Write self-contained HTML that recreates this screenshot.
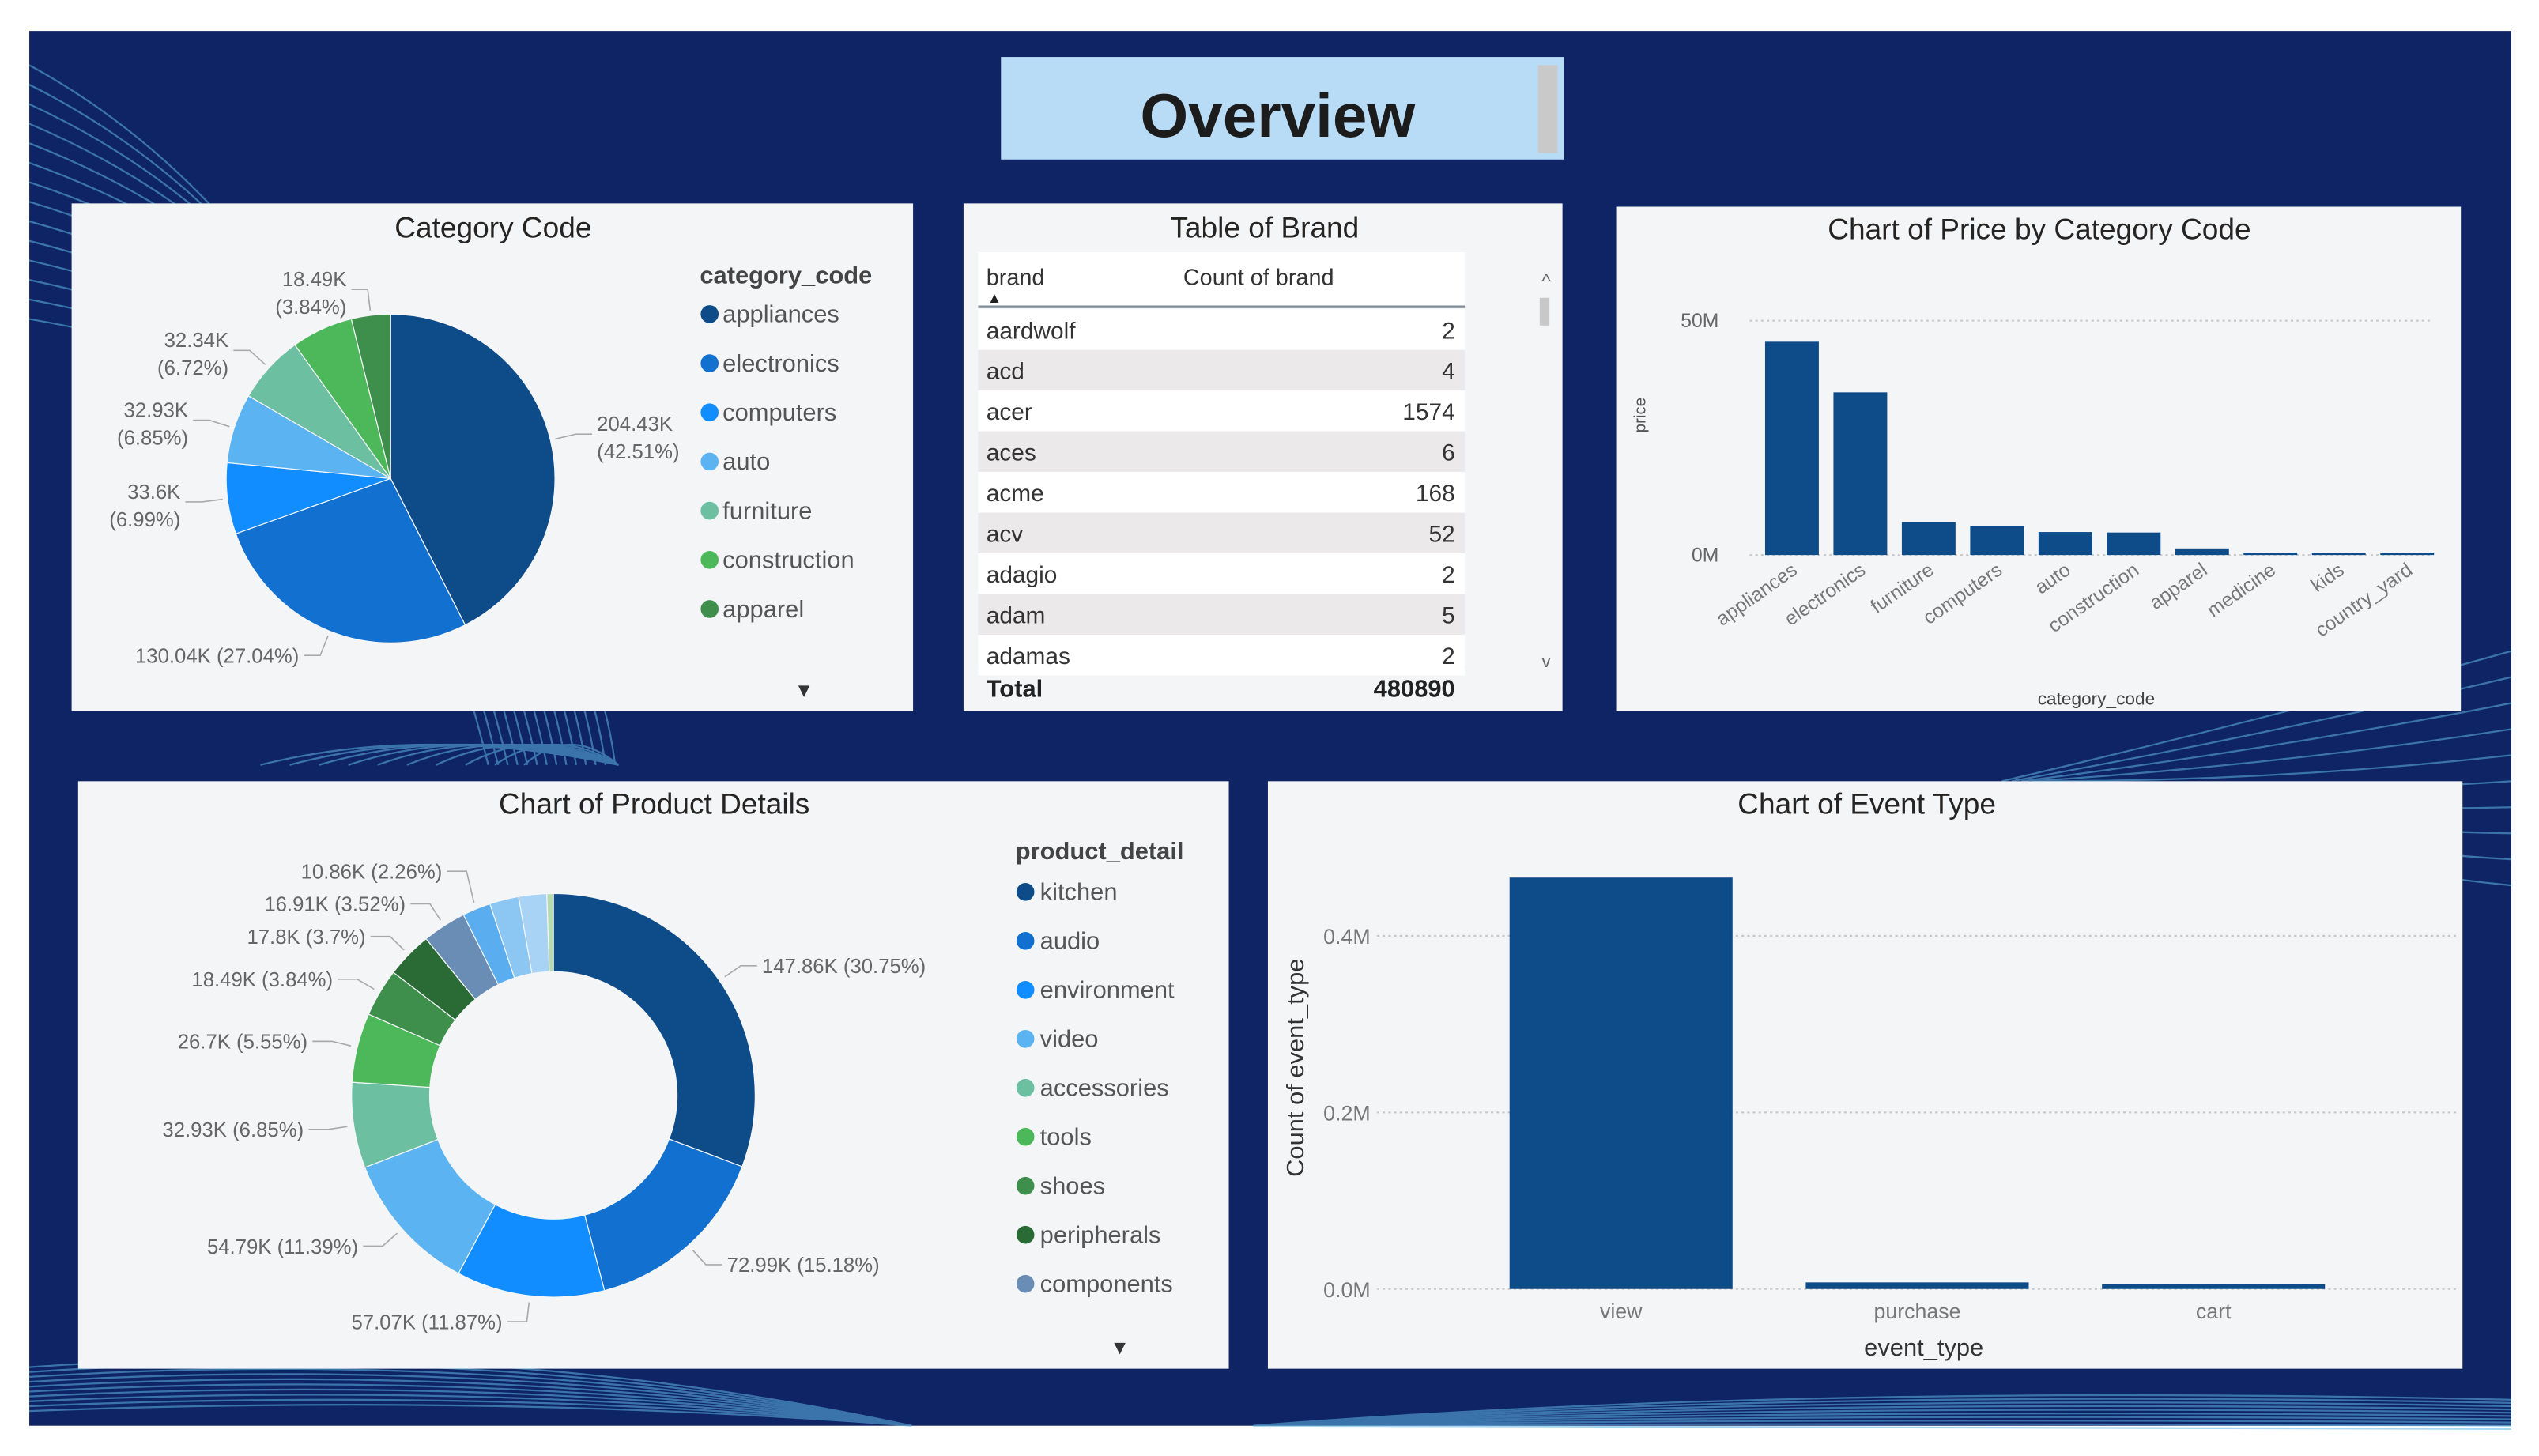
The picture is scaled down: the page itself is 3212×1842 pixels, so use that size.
<!DOCTYPE html>
<html><head><meta charset="utf-8"><style>
html,body{margin:0;padding:0;background:#fff;}
svg{display:block;font-family:"Liberation Sans",sans-serif;}
</style></head><body>
<svg id="root" width="3212" height="1842" viewBox="0 0 1560 894.6" preserveAspectRatio="none" xmlns="http://www.w3.org/2000/svg">
<rect x="0" y="0" width="1560" height="894.6" fill="#ffffff"/>
<rect x="18" y="19" width="1525" height="857" fill="#0f2464"/>
<g id="deco" fill="none" stroke="#5fb6e6" stroke-width="1.1" opacity="0.55"></g>
<g>
<rect x="615" y="35" width="346" height="63" fill="#b8dcf6"/>
<rect x="945" y="40" width="12" height="54" fill="#c9c9c9"/>
<text x="785" y="84" font-size="38" font-weight="bold" text-anchor="middle" fill="#1c1c1c">Overview</text>
</g>
<g id="p1">
<rect x="44" y="125" width="517" height="312" fill="#f4f5f7"/>
<text x="303" y="146" font-size="18" text-anchor="middle" fill="#252423">Category Code</text>
<text x="430" y="174" font-size="15" font-weight="bold" fill="#444">category_code</text>
<text x="494" y="428" font-size="12" text-anchor="middle" fill="#333">▼</text>
</g>
<g id="p2">
<rect x="592" y="125" width="368" height="312" fill="#f4f5f7"/>
<text x="777" y="146" font-size="18" text-anchor="middle" fill="#252423">Table of Brand</text>
<rect x="601" y="155" width="299" height="33" fill="#ffffff"/>
<text x="606" y="175" font-size="14" fill="#333">brand</text>
<text x="611" y="186" font-size="9" text-anchor="middle" fill="#222">▲</text>
<text x="727" y="175" font-size="14" fill="#333">Count of brand</text>
<line x1="601" y1="188.5" x2="900" y2="188.5" stroke="#7f8a94" stroke-width="1.6"/>
<line x1="601" y1="409.5" x2="900" y2="409.5" stroke="#7f8a94" stroke-width="1.6"/>
<rect x="946" y="183" width="6" height="17" fill="#c8c8c8"/>
<text x="950" y="176" font-size="11" text-anchor="middle" fill="#666">^</text>
<text x="950" y="410" font-size="11" text-anchor="middle" fill="#666">v</text>
<text x="606" y="428" font-size="15" font-weight="bold" fill="#222">Total</text>
</g>
<g id="p3">
<rect x="993" y="127" width="519" height="310" fill="#f4f5f7"/>
<text x="1253" y="147" font-size="18" text-anchor="middle" fill="#252423">Chart of Price by Category Code</text>
<text transform="translate(1011,255) rotate(-90)" font-size="10" text-anchor="middle" fill="#555">price</text>
<text x="1288" y="433" font-size="11" text-anchor="middle" fill="#444">category_code</text>
</g>
<g id="p4">
<rect x="48" y="480" width="707" height="361" fill="#f4f5f7"/>
<text x="402" y="500" font-size="18" text-anchor="middle" fill="#252423">Chart of Product Details</text>
<text x="624" y="528" font-size="15" font-weight="bold" fill="#444">product_detail</text>
<text x="688" y="832" font-size="12" text-anchor="middle" fill="#333">▼</text>
</g>
<g id="p5">
<rect x="779" y="480" width="734" height="361" fill="#f4f5f7"/>
<text x="1147" y="500" font-size="18" text-anchor="middle" fill="#252423">Chart of Event Type</text>
<text transform="translate(801,656) rotate(-90)" font-size="15" text-anchor="middle" fill="#333">Count of event_type</text>
<text x="1182" y="833" font-size="15" text-anchor="middle" fill="#333">event_type</text>
</g>
</svg>
<script>
// ---- data ----
const catNames=["appliances","electronics","computers","auto","furniture","construction","apparel"];
const catValues=[204.43,130.04,33.6,32.93,32.34,29.1,18.49];
const catShowLabel=[true,true,true,true,true,false,true];
const catOneLine=[false,true,false,false,false,false,false];
const catColors=["#0d4b89","#1270d0","#118dff","#5cb3f2","#6dbfa2","#4cb85a","#3e8f4c"];

const brandNames=["aardwolf","acd","acer","aces","acme","acv","adagio","adam","adamas"];
const brandCounts=[2,4,1574,6,168,52,2,5,2];
const brandTotal=480890;

const priceCats=["appliances","electronics","furniture","computers","auto","construction","apparel","medicine","kids","country_yard"];
const priceValues=[45.5,34.7,7.0,6.2,4.9,4.8,1.4,0.35,0.3,0.3];
const priceTicks=[0,50];
const priceTickLabels=["0M","50M"];

const prodNames=["kitchen","audio","environment","video","accessories","tools","shoes","peripherals","components","sport","stationery","medicine","country_yard"];
const prodValues=[147.86,72.99,57.07,54.79,32.93,26.7,18.49,17.8,16.91,10.86,11.2,10.8,2.49];
const prodLegendCount=9;
const prodShowLabel=[true,true,true,true,true,true,true,true,true,true,false,false,false];
const prodColors=["#0d4b89","#1270d0","#118dff","#5cb3f2","#6dbfa2","#4cb85a","#3e8f4c","#2a6a35","#6a8db5","#5aaef0","#8cc6f3","#a9d3f5","#b4dcb0"];

const eventCats=["view","purchase","cart"];
const eventValues=[0.466,0.0075,0.0055];
const eventTicks=[0,0.2,0.4];
const eventTickLabels=["0.0M","0.2M","0.4M"];

// ---- helpers ----
const NS="http://www.w3.org/2000/svg";
function mk(tag,attrs,parent,txt){const e=document.createElementNS(NS,tag);for(const k in attrs)e.setAttribute(k,attrs[k]);if(txt!==undefined)e.textContent=txt;parent.appendChild(e);return e;}
function pt(cx,cy,r,a){return [cx+r*Math.sin(a),cy-r*Math.cos(a)];}
function arcPath(cx,cy,r0,r1,a0,a1){
  const big=(a1-a0)>Math.PI?1:0;
  const p0=pt(cx,cy,r1,a0),p1=pt(cx,cy,r1,a1);
  if(r0<=0){return `M${cx},${cy}L${p0[0]},${p0[1]}A${r1},${r1} 0 ${big} 1 ${p1[0]},${p1[1]}Z`;}
  const q1=pt(cx,cy,r0,a1),q0=pt(cx,cy,r0,a0);
  return `M${p0[0]},${p0[1]}A${r1},${r1} 0 ${big} 1 ${p1[0]},${p1[1]}L${q1[0]},${q1[1]}A${r0},${r0} 0 ${big} 0 ${q0[0]},${q0[1]}Z`;
}
function fmtK(v){return (Math.round(v*100)/100)+"K";}
function declutter(list,gap){
  list.sort((a,b)=>a.y-b.y);
  for(let i=1;i<list.length;i++){if(list[i].y-list[i-1].y<gap)list[i].y=list[i-1].y+gap;}
}

// ---- decoration ----
const deco=document.getElementById('deco');
for(let i=0;i<14;i++){
  mk('path',{d:`M${18},${40+i*12} Q${220+i*10},${150+i*8} ${300+i*6},${470}`},deco);
}
for(let i=0;i<10;i++){
  mk('path',{d:`M${160+i*18},${470} Q${260+i*10},${445} ${380},${470}`},deco);
  mk('path',{d:`M${1543},${400+i*16} Q${1400},${440+i*10} ${1230+i*6},${480}`},deco);
  mk('path',{d:`M${18},${840+i*3} Q${300},${820+i*4} ${560},${876}`},deco);
  mk('path',{d:`M${770},${876} Q${1100},${850+i*3} ${1543},${860+i*2}`},deco);
}

// ---- pie 1 ----
(function(){
  const g=document.getElementById('p1');
  const cx=240,cy=294,r=101;
  const tot=catValues.reduce((a,b)=>a+b,0);
  let a=0;const left=[],right=[];
  catValues.forEach((v,i)=>{
    const a1=a+v/tot*2*Math.PI;
    const s=mk('path',{d:arcPath(cx,cy,0,r,a,a1),fill:catColors[i],stroke:'#f4f5f7','stroke-width':0.6},g);
    
    
    if(catShowLabel[i]){
      const m=(a+a1)/2;const p=pt(cx,cy,r+3,m);const q=pt(cx,cy,r+16,m);
      const o={i:i,p:p,x:q[0],y:q[1],m:m};
      (Math.sin(m)>=0?right:left).push(o);
    }
    a=a1;
  });
  declutter(left,36);declutter(right,36);
  left.concat(right).forEach(o=>{
    const rs=Math.sin(o.m)>=0;const ex=o.x+(rs?10:-10);
    mk('polyline',{points:`${o.p[0]},${o.p[1]} ${o.x},${o.y} ${ex},${o.y}`,fill:'none',stroke:'#aaa','stroke-width':0.8},g);
    const pct=(catValues[o.i]/tot*100).toFixed(2)+"%";
    if(catOneLine[o.i]){
      const t=mk('text',{x:ex+(rs?3:-3),y:o.y+4.5,'font-size':12.5,fill:'#666','text-anchor':rs?'start':'end'},g,fmtK(catValues[o.i])+" ("+pct+")");
      
      
      return;
    }
    const t=mk('text',{x:ex+(rs?3:-3),y:o.y-2,'font-size':12.5,fill:'#666','text-anchor':rs?'start':'end'},g,fmtK(catValues[o.i]));
    
    
    const t2=mk('text',{x:ex+(rs?3:-3),y:o.y+15,'font-size':12.5,fill:'#666','text-anchor':rs?'start':'end'},g,"("+pct+")");
    
    
  });
  catNames.forEach((n,i)=>{
    const y=193+i*30.2;
    const c=mk('circle',{cx:436,cy:y,r:5.5,fill:catColors[i]},g);
    
    
    const t=mk('text',{x:444,y:y+5,'font-size':15,fill:'#555'},g,n);
    
    
  });
})();

// ---- table ----
(function(){
  const g=document.getElementById('p2');
  brandNames.forEach((n,i)=>{
    const y=190+i*25;
    const bg=mk('rect',{x:601,y:y,width:299,height:25,fill:i%2?'#ebe9ea':'#ffffff'},g);
    
    
    const t=mk('text',{x:606,y:y+18,'font-size':14.5,fill:'#333'},g,n);
    
    
    const c=mk('text',{x:894,y:y+18,'font-size':14.5,fill:'#333','text-anchor':'end'},g,String(brandCounts[i]));
    
    
  });
  const t=mk('text',{x:894,y:428,'font-size':15,'font-weight':'bold',fill:'#222','text-anchor':'end'},g,String(brandTotal));
  
  
})();

// ---- price bar chart ----
(function(){
  const g=document.getElementById('p3');
  const y0=341,y1=197,vmax=50;
  const yS=v=>y0-(v/vmax)*(y0-y1);
  const xL=1080,step=42,bw=33;
  const xS=i=>xL+step*i+step/2;
  priceTicks.forEach((v,i)=>{
    mk('line',{x1:1075,x2:1495,y1:yS(v),y2:yS(v),stroke:'#c8c8c8','stroke-dasharray':'1.5,2'},g);
    const t=mk('text',{x:1056,y:yS(v)+4,'font-size':12,fill:'#666','text-anchor':'end'},g,priceTickLabels[i]);
    
    
  });
  priceCats.forEach((n,i)=>{
    const top=yS(priceValues[i]);
    const b=mk('rect',{x:xS(i)-bw/2,y:Math.min(top,y0-1.5),width:bw,height:Math.max(y0-top,1.5),fill:'#0d4b89'},g);
    
    
    const t=mk('text',{x:xS(i)+4,y:352,'font-size':12,fill:'#777','text-anchor':'end',transform:`rotate(-35 ${xS(i)+4} 352)`},g,n);
    
    
  });
})();

// ---- donut ----
(function(){
  const g=document.getElementById('p4');
  const cx=340,cy=673,r=124,ri=76;
  const tot=prodValues.reduce((a,b)=>a+b,0);
  let a=0;const left=[],right=[];
  prodValues.forEach((v,i)=>{
    const a1=a+v/tot*2*Math.PI;
    const s=mk('path',{d:arcPath(cx,cy,ri,r,a,a1),fill:prodColors[i],stroke:'#f4f5f7','stroke-width':0.6},g);
    
    
    if(prodShowLabel[i]){
      const m=(a+a1)/2;const p=pt(cx,cy,r+4,m);const q=pt(cx,cy,r+16,m);
      (Math.sin(m)>=0?right:left).push({i:i,p:p,x:q[0],y:q[1],m:m});
    }
    a=a1;
  });
  left.sort((p,q)=>q.y-p.y);
  for(let k=1;k<left.length;k++){if(left[k-1].y-left[k].y<20)left[k].y=left[k-1].y-20;}
  declutter(right,20);
  left.concat(right).forEach(o=>{
    const rs=Math.sin(o.m)>=0;const ex=o.x+(rs?10:-12);
    mk('polyline',{points:`${o.p[0]},${o.p[1]} ${o.x},${o.y} ${ex},${o.y}`,fill:'none',stroke:'#aaa','stroke-width':0.8},g);
    const pct=(prodValues[o.i]/tot*100).toFixed(2).replace(/\.?0+$/,'')+"%";
    const t=mk('text',{x:ex+(rs?3:-3),y:o.y+4.5,'font-size':12.5,fill:'#666','text-anchor':rs?'start':'end'},g,fmtK(prodValues[o.i])+" ("+pct+")");
    
    
  });
  for(let i=0;i<prodLegendCount;i++){
    const y=548+i*30.1;
    const c=mk('circle',{cx:630,cy:y,r:5.5,fill:prodColors[i]},g);
    
    
    const t=mk('text',{x:639,y:y+5,'font-size':15,fill:'#555'},g,prodNames[i]);
    
    
  }
})();

// ---- event bar chart ----
(function(){
  const g=document.getElementById('p5');
  const y0=792,y1=575,vmax=0.4;
  const yS=v=>y0-(v/vmax)*(y0-y1);
  const xL=905,step=182,bw=137;
  const xS=i=>xL+step*i+step/2;
  eventTicks.forEach((v,i)=>{
    mk('line',{x1:846,x2:1510,y1:yS(v),y2:yS(v),stroke:'#c8c8c8','stroke-dasharray':'1.5,2'},g);
    const t=mk('text',{x:842,y:yS(v)+5,'font-size':13,fill:'#777','text-anchor':'end'},g,eventTickLabels[i]);
    
    
  });
  eventCats.forEach((n,i)=>{
    const top=yS(eventValues[i]);
    const b=mk('rect',{x:xS(i)-bw/2,y:top,width:bw,height:y0-top,fill:'#0d4b89'},g);
    
    
    const t=mk('text',{x:xS(i),y:810,'font-size':13,fill:'#777','text-anchor':'middle'},g,n);
    
    
  });
})();
</script>
</body></html>
